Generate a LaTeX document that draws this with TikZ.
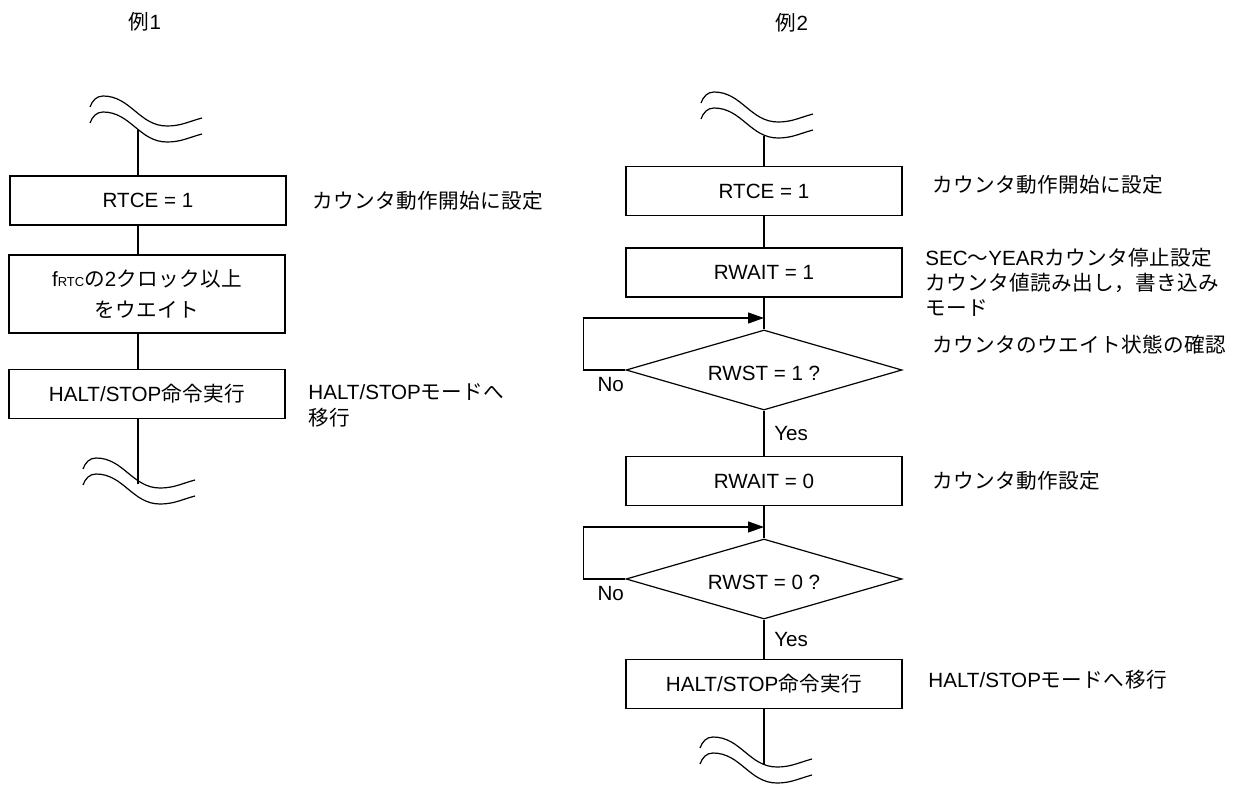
\documentclass[tikz,border=0pt]{standalone}
\usepackage{fontspec}
\setmainfont{Liberation Sans}
\newfontfamily\cjk[LetterSpace=2]{Noto Sans CJK JP}
\newcommand{\jp}[1]{{\cjk #1}}
\newcommand{\smallcap}[1]{{\fontsize{6.5}{7}\selectfont #1}}
\usetikzlibrary{shapes.geometric}
\usetikzlibrary{arrows.meta}

\tikzset{
  procbox/.style={draw, line width=0.6pt, minimum width=138pt, minimum height=24.5pt, inner sep=0pt, align=center},
  decbox/.style={draw, diamond, aspect=3.45, line width=0.6pt, minimum width=138pt, minimum height=40pt, inner sep=0pt, text height=10.4pt, text depth=0pt},
  note/.style={anchor=west, inner sep=0pt, align=left},
  flow/.style={line width=0.6pt},
  loopback/.style={line width=0.6pt, -{Triangle[length=8pt,width=5.5pt]}},
  brk/.pic={
    \draw[line width=0.6pt] (-77,19) to[out=70,in=180] (-64,30) to[out=0,in=180] (0,0) to[out=0,in=195] (35,8);
    \draw[line width=0.6pt] (-77,3) to[out=70,in=180] (-64,14) to[out=0,in=180] (0,-16) to[out=0,in=195] (35,-8);
  }
}

\begin{document}
\begin{tikzpicture}[x=0.5pt,y=0.5pt,font=\fontsize{10.3}{12.8}\selectfont]
    \useasboundingbox (0,0) rectangle (1241,-786);

    % titles
    \node (t1) at (145,-22) {\jp{例}1};
    \node (t2) at (792,-23) {\jp{例}2};

    % example 1
    \pic at (167,-126) {brk};
    \coordinate (lt) at (138,-130);
    \node[procbox] (l1) at (148,-200.5) {RTCE = 1};
    \node[procbox, minimum height=39pt] (l2) at (147,-294) {f\smallcap{RTC}\jp{の}2\jp{クロック以上}\\[3pt]\jp{をウエイト}};
    \node[procbox] (l3) at (147,-394) {HALT/STOP\jp{命令実行}};
    \coordinate (lb) at (138,-484);
    \pic at (160,-488) {brk};

    \draw[flow] (lt) -- (lt |- l1.north);
    \draw[flow] (l1.south -| lt) -- (l2.north -| lt);
    \draw[flow] (l2.south -| lt) -- (l3.north -| lt);
    \draw[flow] (l3.south -| lt) -- (lb);

    \node[note] (n1) at (312,-201) {\jp{カウンタ動作開始に設定}};
    \node[note] (n2) at (308,-405) {HALT/STOP\jp{モードへ}\\[0.2pt]\jp{移行}};

    % example 2
    \pic at (778,-122) {brk};
    \coordinate (rt) at (764,-136);
    \node[procbox] (r1) at (764,-191) {RTCE = 1};
    \node[procbox] (r2) at (764,-272.5) {RWAIT = 1};
    \coordinate (j1) at (764,-318);
    \node[decbox] (d1) at (764,-370) {RWST = 1 ?};
    \node[procbox] (r3) at (764,-481) {RWAIT = 0};
    \coordinate (j2) at (764,-527);
    \node[decbox] (d2) at (764,-579) {RWST = 0 ?};
    \node[procbox] (r4) at (764,-684) {HALT/STOP\jp{命令実行}};
    \coordinate (rb) at (764,-765);
    \pic at (777,-767) {brk};

    \draw[flow] (rt) -- (r1);
    \draw[flow] (r1) -- (r2);
    \draw[flow] (r2) -- (d1);
    \draw[flow] (d1) -- node[right, xshift=1.5pt] {Yes} (r3);
    \draw[flow] (r3) -- (d2);
    \draw[flow] (d2) -- node[right, xshift=1.5pt] {Yes} (r4);
    \draw[flow] (r4) -- (rb);
    \draw[loopback] (d1.west) -- node[below, pos=0.35] {No} ++(-42,0) |- (j1);
    \draw[loopback] (d2.west) -- node[below, pos=0.35] {No} ++(-42,0) |- (j2);

    \node[note] (m1) at (932,-185) {\jp{カウンタ動作開始に設定}};
    \node[note, font=\fontsize{10.3}{12.5}\selectfont] (m2) at (925,-282) {SEC\jp{〜}YEAR\jp{カウンタ停止設定}\\\jp{カウンタ値読み出し，書き込み}\\\jp{モード}};
    \node[note] (m3) at (932,-345) {\jp{カウンタのウエイト状態の確認}};
    \node[note] (m4) at (932,-481) {\jp{カウンタ動作設定}};
    \node[note] (m5) at (928,-680) {HALT/STOP\jp{モードへ移行}};
\end{tikzpicture}
\end{document}
